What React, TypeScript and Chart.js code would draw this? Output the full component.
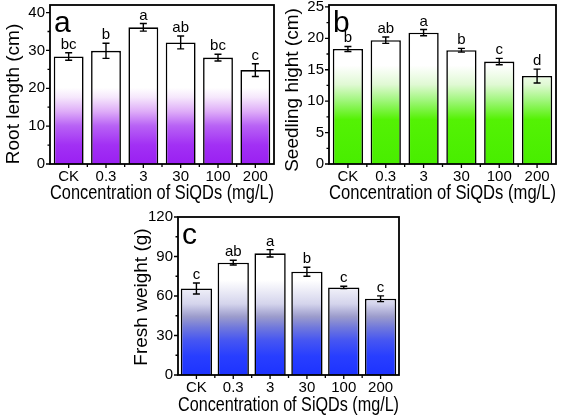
import React, { useEffect, useRef } from 'react';
import { Chart, registerables } from 'chart.js';

Chart.register(...registerables);

const FONT = '"Liberation Sans", Arial, Helvetica, sans-serif';

const categories = ['CK', '0.3', '3', '30', '100', '200'];
const xTitle = 'Concentration of SiQDs (mg/L)';

const rootLength = [28.4, 29.9, 36.1, 32.1, 28.1, 24.8];
const rootLengthErr = [1.0, 2.0, 1.0, 1.7, 0.9, 1.7];
const rootLengthLetters = ['bc', 'b', 'a', 'ab', 'bc', 'c'];
const rootLengthTicks = [0, 10, 20, 30, 40];

const seedlingHeight = [18.3, 19.7, 20.9, 18.1, 16.3, 14.0];
const seedlingHeightErr = [0.4, 0.5, 0.5, 0.3, 0.5, 1.1];
const seedlingHeightLetters = ['b', 'ab', 'a', 'b', 'c', 'd'];
const seedlingHeightTicks = [0, 5, 10, 15, 20, 25];

const freshWeight = [65.7, 85.3, 92.4, 78.4, 66.5, 57.9];
const freshWeightErr = [4.2, 1.8, 2.8, 3.4, 0.9, 2.2];
const freshWeightLetters = ['c', 'ab', 'a', 'b', 'c', 'c'];
const freshWeightTicks = [0, 30, 60, 90, 120];

type Box = { left: number; top: number; width: number; height: number };
type Area = { l: number; t: number; r: number; b: number };

type PanelSpec = {
  tag: string;
  values: number[];
  errors: number[];
  letters: string[];
  ticks: number[];
  max: number;
  yTitle: string;
  box: Box;
  area: Area;
  yTitleX: number;
  yTitleY: number;
  xTitleY: number;
  barPct: number;
  stops: [number, string][];
};

const panels: PanelSpec[] = [
  {
    tag: 'a',
    values: rootLength,
    errors: rootLengthErr,
    letters: rootLengthLetters,
    ticks: rootLengthTicks,
    max: 42,
    yTitle: 'Root length (cm)',
    box: { left: 0, top: 0, width: 290, height: 205 },
    area: { l: 50, t: 5, r: 274, b: 164 },
    yTitleX: 14,
    yTitleY: 94,
    xTitleY: 193,
    barPct: 0.8,
    stops: [
      [0, '#9a20f2'],
      [0.12, '#a230f4'],
      [0.24, '#b862f5'],
      [0.33, '#deacf8'],
      [0.42, '#f6e8fc'],
      [0.48, '#ffffff'],
      [1, '#ffffff'],
    ],
  },
  {
    tag: 'b',
    values: seedlingHeight,
    errors: seedlingHeightErr,
    letters: seedlingHeightLetters,
    ticks: seedlingHeightTicks,
    max: 25.3,
    yTitle: 'Seedling hight (cm)',
    box: { left: 280, top: 0, width: 287, height: 205 },
    area: { l: 329, t: 5, r: 556, b: 164 },
    yTitleX: 293,
    yTitleY: 90,
    xTitleY: 193,
    barPct: 0.8,
    stops: [
      [0, '#48ee00'],
      [0.28, '#54f204'],
      [0.4, '#a0f67c'],
      [0.5, '#e0f9d4'],
      [0.62, '#ffffff'],
      [1, '#ffffff'],
    ],
  },
  {
    tag: 'c',
    values: freshWeight,
    errors: freshWeightErr,
    letters: freshWeightLetters,
    ticks: freshWeightTicks,
    max: 120,
    yTitle: 'Fresh weight (g)',
    box: { left: 130, top: 200, width: 290, height: 218 },
    area: { l: 178, t: 217, r: 399, b: 375 },
    yTitleX: 142,
    yTitleY: 297,
    xTitleY: 405,
    barPct: 0.85,
    stops: [
      [0, '#1d33ff'],
      [0.12, '#283eff'],
      [0.22, '#4656f2'],
      [0.3, '#7078dc'],
      [0.37, '#9c9ccc'],
      [0.45, '#d4d4ec'],
      [0.6, '#ffffff'],
      [1, '#ffffff'],
    ],
  },
];

function Panel({ spec }: { spec: PanelSpec }) {
  const ref = useRef<HTMLCanvasElement | null>(null);

  useEffect(() => {
    const canvas = ref.current;
    if (!canvas) return;
    const { box, area } = spec;
    const xTitleLH = 20 * 1.2;

    const decor = {
      id: 'decor-' + spec.tag,
      afterDatasetsDraw(chart: any) {
        const ctx = chart.ctx as CanvasRenderingContext2D;
        const { left, right, top, bottom } = chart.chartArea;
        const y = chart.scales.y;
        const x = chart.scales.x;
        const meta = chart.getDatasetMeta(0);
        ctx.save();
        ctx.strokeStyle = '#000';
        ctx.fillStyle = '#000';
        // error bars + letters
        spec.values.forEach((v, i) => {
          const px = meta.data[i].x;
          const hi = y.getPixelForValue(v + spec.errors[i]);
          const lo = y.getPixelForValue(v - spec.errors[i]);
          ctx.lineWidth = 1.4;
          ctx.beginPath();
          ctx.moveTo(px, hi);
          ctx.lineTo(px, lo);
          ctx.moveTo(px - 3.5, hi);
          ctx.lineTo(px + 3.5, hi);
          ctx.moveTo(px - 3.5, lo);
          ctx.lineTo(px + 3.5, lo);
          ctx.stroke();
          ctx.font = '15px ' + FONT;
          ctx.textAlign = 'center';
          ctx.textBaseline = 'alphabetic';
          ctx.fillText(spec.letters[i], px, hi - 4);
        });
        // frame
        ctx.lineWidth = 1.8;
        ctx.strokeRect(left, top, right - left, bottom - top);
        // y ticks (major + minor)
        ctx.lineWidth = 1.3;
        ctx.beginPath();
        spec.ticks.forEach((t, i) => {
          const py = y.getPixelForValue(t);
          ctx.moveTo(left, py);
          ctx.lineTo(left - 4, py);
          if (i < spec.ticks.length - 1) {
            const pm = y.getPixelForValue((t + spec.ticks[i + 1]) / 2);
            ctx.moveTo(left, pm);
            ctx.lineTo(left - 2.5, pm);
          }
        });
        // x ticks at centers and boundaries
        const n = categories.length;
        for (let i = 0; i < n; i++) {
          const cx = x.getPixelForValue(i);
          ctx.moveTo(cx, bottom);
          ctx.lineTo(cx, bottom + 4);
          if (i < n - 1) {
            const bx = (cx + x.getPixelForValue(i + 1)) / 2;
            ctx.moveTo(bx, bottom);
            ctx.lineTo(bx, bottom + 3);
          }
        }
        ctx.stroke();
        // panel tag
        ctx.font = '30px ' + FONT;
        ctx.textAlign = 'left';
        ctx.textBaseline = 'alphabetic';
        ctx.fillText(spec.tag, left + 4, top + 27);
        // y title
        ctx.translate(spec.yTitleX - box.left, spec.yTitleY - box.top);
        ctx.rotate(-Math.PI / 2);
        ctx.font = '19px ' + FONT;
        ctx.textAlign = 'center';
        ctx.textBaseline = 'middle';
        ctx.fillText(spec.yTitle, 0, 0);
        ctx.restore();
      },
    };

    const chart = new Chart(canvas, {
      type: 'bar',
      data: {
        labels: categories,
        datasets: [
          {
            data: spec.values,
            backgroundColor: (c: any) => {
              const ch = c.chart;
              const a = ch.chartArea;
              if (!a) return spec.stops[0][1];
              const g = ch.ctx.createLinearGradient(0, a.bottom, 0, a.top);
              spec.stops.forEach(([o, col]) => g.addColorStop(o, col));
              return g;
            },
            borderColor: '#000',
            borderWidth: 1.6,
            barPercentage: spec.barPct,
            categoryPercentage: 1,
          },
        ],
      },
      options: {
        responsive: false,
        animation: false,
        devicePixelRatio: 1,
        layout: {
          padding: {
            top: area.t - box.top,
            right: box.left + box.width - area.r,
            left: 0,
            bottom: 0,
          },
        },
        plugins: {
          legend: { display: false },
          tooltip: { enabled: false },
        },
        scales: {
          x: {
            afterFit: (s: any) => {
              s.height = box.top + box.height - area.b;
              s.paddingLeft = 0;
              s.paddingRight = 0;
            },
            grid: { display: false, drawTicks: false },
            border: { display: false },
            ticks: {
              color: '#000',
              font: { size: 15, family: FONT },
              padding: 4,
              maxRotation: 0,
              autoSkip: false,
            },
            title: {
              display: true,
              text: xTitle,
              color: '#000',
              font: { size: 20, family: FONT },
              padding: {
                top: 0,
                bottom: box.top + box.height - spec.xTitleY - xTitleLH / 2,
              },
            },
          },
          y: {
            min: 0,
            max: spec.max,
            afterBuildTicks: (s: any) => {
              s.ticks = spec.ticks.map((v) => ({ value: v }));
            },
            afterFit: (s: any) => {
              s.width = area.l - box.left;
              s.paddingTop = 0;
              s.paddingBottom = 0;
            },
            grid: { display: false, drawTicks: false },
            border: { display: false },
            ticks: {
              color: '#000',
              font: { size: 15, family: FONT },
              padding: 5,
            },
            title: { display: false },
          },
        },
      },
      plugins: [decor],
    } as any);

    return () => chart.destroy();
  }, [spec]);

  return (
    <canvas
      ref={ref}
      width={spec.box.width}
      height={spec.box.height}
      style={{
        position: 'absolute',
        left: spec.box.left,
        top: spec.box.top,
        width: spec.box.width,
        height: spec.box.height,
      }}
    />
  );
}

export default function App() {
  return (
    <div
      style={{
        position: 'fixed',
        left: 0,
        top: 0,
        width: 567,
        height: 418,
        background: '#fff',
        overflow: 'hidden',
      }}
    >
      {panels.map((p) => (
        <Panel key={p.tag} spec={p} />
      ))}
    </div>
  );
}
